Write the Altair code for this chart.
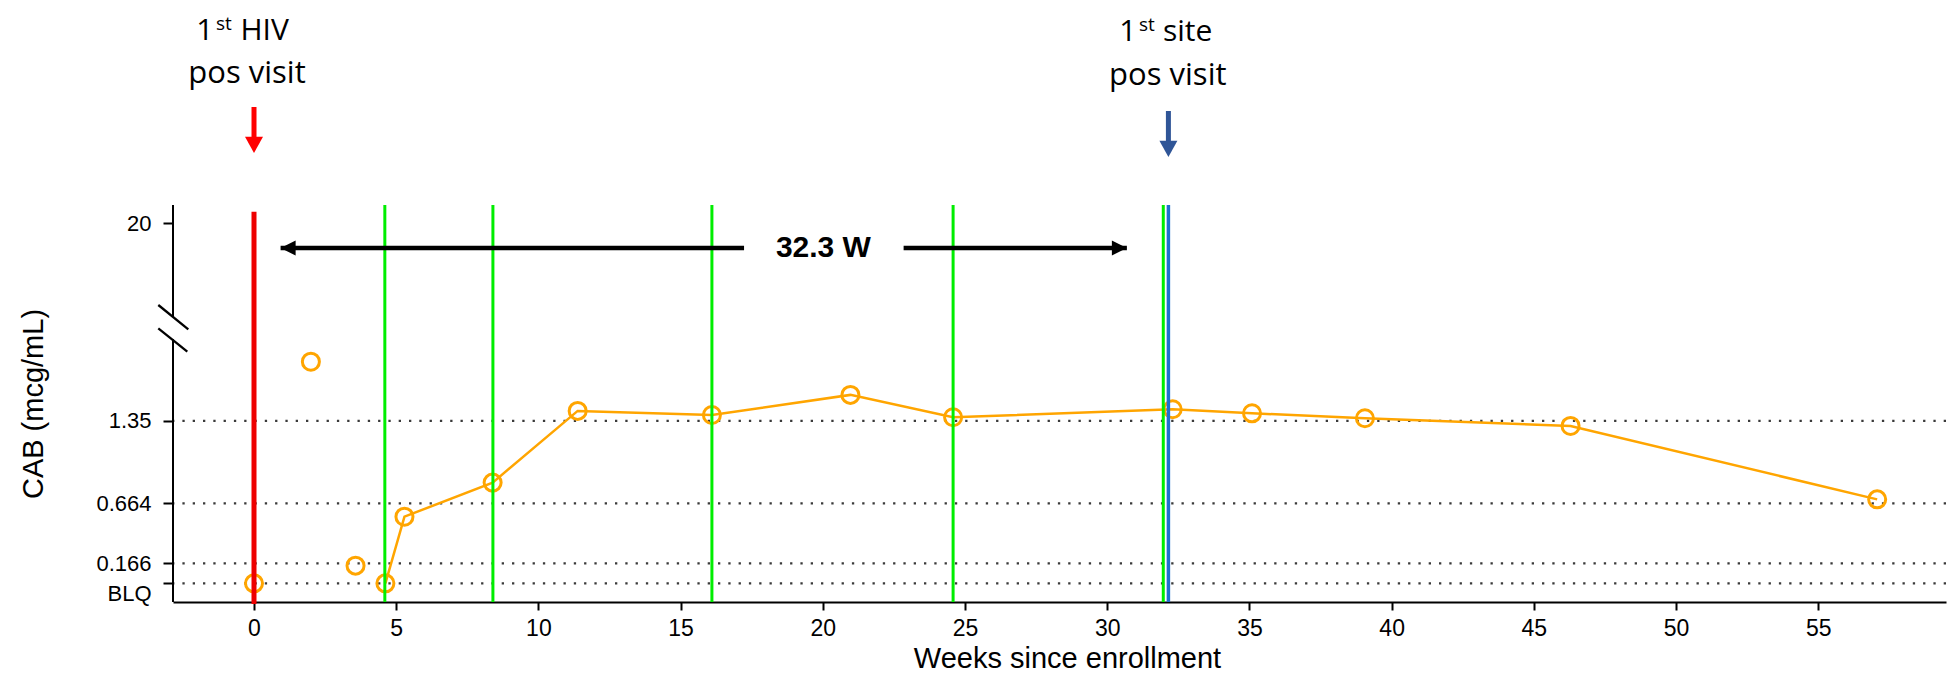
import altair as alt
import pandas as pd

# ---------------- values ----------------
conn_weeks = [4.62, 5.29, 8.39, 11.38, 16.10, 20.97, 24.58, 32.30, 35.09, 39.06, 46.29, 57.07]
conn_cab = [0.0, 0.554, 0.837, 1.433, 1.399, 1.566, 1.380, 1.447, 1.413, 1.372, 1.308, 0.698]
solo_weeks = [0.0, 2.0, 3.57]
solo_cab = [0.0, 1.842, 0.147]
ref_levels = [0.0, 0.166, 0.664, 1.35]
y_tick_values = [0.0, 0.166, 0.664, 1.35, 20.0]
y_tick_text = ["BLQ", "0.166", "0.664", "1.35", "20"]
x_tick_values = [0, 5, 10, 15, 20, 25, 30, 35, 40, 45, 50, 55]
injection_weeks = [4.60, 8.40, 16.10, 24.58, 31.97]
hiv_pos_week = [0.0]
site_pos_week = [32.15]
red_line_cab = [22.0, -0.172]
interval_text = ["32.3 W"]
interval_tips = [0.935, 30.69]
interval_text_week = [20.02]

# ---------------- geometry ----------------
W, H = 1773, 397
x_scale = alt.Scale(domain=[-2.848, 59.49], nice=False, zero=False)
y_scale = alt.Scale(domain=[-0.155, 2.126, 23.14], range=[H, 122.5, 0], nice=False, zero=False)

label_expr = "".join(
    f"datum.value == {v} ? '{t}' : " for v, t in zip(y_tick_values, y_tick_text)
) + "''"

FONT = "Liberation Sans"
x_axis = alt.Axis(
    values=x_tick_values, grid=False, domainColor="black", domainWidth=2,
    tickColor="black", tickWidth=2, tickSize=8, labelFont=FONT, labelFontSize=23,
    labelColor="black", labelPadding=7, labelFlush=False,
    title="Weeks since enrollment", titleFont=FONT, titleFontSize=29,
    titleFontWeight="normal", titleColor="black", titleBaseline="alphabetic",
    titleY=65, titleX=894,
)
y_axis = alt.Axis(
    values=y_tick_values, labelExpr=label_expr, grid=False, domain=False,
    tickColor="black", tickWidth=2, tickSize=10, labelFont=FONT, labelFontSize=22,
    labelColor="black", labelPadding=12, labelOverlap=False, labelFlush=False,
    labelBaseline={"condition": {"test": "datum.value == 0", "value": "top"}, "value": "middle"},
    title="CAB (mcg/mL)", titleFont=FONT, titleFontSize=29, titleFontWeight="normal",
    titleColor="black", titleAngle=270, titleBaseline="alphabetic",
    titleX=-131, titleY=198.5, titleAlign="center",
)


def X(field):
    return alt.X(field, type="quantitative", scale=x_scale, axis=x_axis)


def Y(field):
    return alt.Y(field, type="quantitative", scale=y_scale, axis=y_axis)


def YD(v):
    return alt.YDatum(v, type="quantitative", scale=y_scale, axis=y_axis)


df_line = pd.DataFrame({"week": conn_weeks, "cab": conn_cab})
df_pts = pd.DataFrame({"week": solo_weeks + conn_weeks, "cab": solo_cab + conn_cab})
df_ref = pd.DataFrame({"cab": ref_levels})
df_inj = pd.DataFrame({"week": injection_weeks})
df_hiv = pd.DataFrame({"week": hiv_pos_week})
df_site = pd.DataFrame({"week": site_pos_week})
df_one = pd.DataFrame({"k": [0]})

ORANGE = "#FFA500"

dotted = alt.Chart(df_ref).mark_rule(
    strokeDash=[2.3, 8], strokeWidth=2.3, color="#3a3a3a"
).encode(y=Y("cab"))

line = alt.Chart(df_line).mark_line(color=ORANGE, strokeWidth=2.5).encode(x=X("week"), y=Y("cab"))

points = alt.Chart(df_pts).mark_point(
    shape="circle", size=290, strokeWidth=3, color=ORANGE, filled=False, opacity=1
).encode(x=X("week"), y=Y("cab"))

green = alt.Chart(df_inj).mark_rule(color="#00EE00", strokeWidth=3).encode(x=X("week"))
blue = alt.Chart(df_site).mark_rule(color="#1F6FCF", strokeWidth=3.5).encode(x=X("week"))
red = alt.Chart(df_hiv).mark_rule(color="#EE0000", strokeWidth=5).encode(
    x=X("week"), y=YD(red_line_cab[0]), y2=alt.datum(red_line_cab[1])
)

# y axis line with a break
yaxis_top = alt.Chart(df_one).mark_rule(color="black", strokeWidth=2).encode(
    x=alt.value(0), y=YD(23.14), y2=alt.datum(3.93)
)
yaxis_bot = alt.Chart(df_one).mark_rule(color="black", strokeWidth=2).encode(
    x=alt.value(0), y=YD(2.03), y2=alt.datum(-0.155)
)
slash1 = alt.Chart(df_one).mark_rule(color="black", strokeWidth=2.3).encode(
    x=alt.value(-14.7), x2=alt.value(15.3), y=alt.value(100), y2=alt.value(124.3)
)
slash2 = alt.Chart(df_one).mark_rule(color="black", strokeWidth=2.3).encode(
    x=alt.value(-14.7), x2=alt.value(14.3), y=alt.value(123.3), y2=alt.value(146.7)
)

# down arrows
DOWN = "M0,0L-1,-1.8L1,-1.8Z"
red_shaft = alt.Chart(df_hiv).mark_rule(color="#FF0000", strokeWidth=5).encode(
    x=X("week"), y=alt.value(-98), y2=alt.value(-64)
)
red_head = alt.Chart(df_hiv).mark_point(
    shape=DOWN, size=324, filled=True, color="#FF0000", opacity=1
).encode(x=X("week"), y=alt.value(-52))
blue_shaft = alt.Chart(df_site).mark_rule(color="#2F5597", strokeWidth=5).encode(
    x=X("week"), y=alt.value(-94), y2=alt.value(-60)
)
blue_head = alt.Chart(df_site).mark_point(
    shape=DOWN, size=324, filled=True, color="#2F5597", opacity=1
).encode(x=X("week"), y=alt.value(-48))

# interval double arrow
ARROW_Y = 43
df_int_l = pd.DataFrame({"a": [interval_tips[0]], "b": [interval_text_week[0] - 2.79]})
df_int_r = pd.DataFrame({"a": [interval_text_week[0] + 2.82], "b": [interval_tips[1]]})
shaft_l = alt.Chart(df_int_l).mark_rule(color="black", strokeWidth=4.3).encode(
    x=X("a"), x2="b", y=alt.value(ARROW_Y)
)
shaft_r = alt.Chart(df_int_r).mark_rule(color="black", strokeWidth=4.3).encode(
    x=X("a"), x2="b", y=alt.value(ARROW_Y)
)
df_tipl = pd.DataFrame({"week": [interval_tips[0]]})
df_tipr = pd.DataFrame({"week": [interval_tips[1]]})
head_l = alt.Chart(df_tipl).mark_point(
    shape="M0,0L2,-1L2,1Z", size=225, filled=True, color="black", opacity=1
).encode(x=X("week"), y=alt.value(ARROW_Y))
head_r = alt.Chart(df_tipr).mark_point(
    shape="M0,0L-2,-1L-2,1Z", size=225, filled=True, color="black", opacity=1
).encode(x=X("week"), y=alt.value(ARROW_Y))
df_int_txt = pd.DataFrame({"week": interval_text_week, "t": interval_text})
int_text = alt.Chart(df_int_txt).mark_text(
    font=FONT, fontSize=30, fontWeight="bold", color="black", align="center",
    baseline="alphabetic"
).encode(x=X("week"), y=alt.value(51.7), text="t:N")

# event annotations (text pieces: text, size, align, dx, y)
ANN_FONT = "Open Sans"
hiv_pieces = [("1", 30, "right", -40.7, -165), ("st", 19, "left", -38.0, -175.5),
              ("HIV", 30, "left", -13.5, -165), ("pos visit", 31, "center", -7, -122)]
site_pieces = [("1", 30, "right", -32.0, -164), ("st", 19, "left", -29.5, -174.5),
               ("site", 30, "left", -5.5, -164), ("pos visit", 31, "center", -0.6, -120)]

ann_layers = []
for df_ev, pieces in ((df_hiv, hiv_pieces), (df_site, site_pieces)):
    for txt, fs, al, dx, yy in pieces:
        ann_layers.append(
            alt.Chart(df_ev).mark_text(
                text=txt, font=ANN_FONT, fontSize=fs, align=al, dx=dx,
                baseline="alphabetic", color="black"
            ).encode(x=X("week"), y=alt.value(yy))
        )

chart = alt.layer(
    dotted, line, points, green, blue, red, yaxis_top, yaxis_bot, slash1, slash2,
    red_shaft, red_head, blue_shaft, blue_head, shaft_l, shaft_r, head_l, head_r,
    int_text, *ann_layers
).properties(
    width=W, height=H,
    padding={"left": 165, "top": 197, "right": 2, "bottom": 70},
    autosize=alt.AutoSizeParams(type="none"),
    background="white",
).configure_view(stroke="transparent")

chart.save("out.html", embed_options={"renderer": "svg", "actions": False})
